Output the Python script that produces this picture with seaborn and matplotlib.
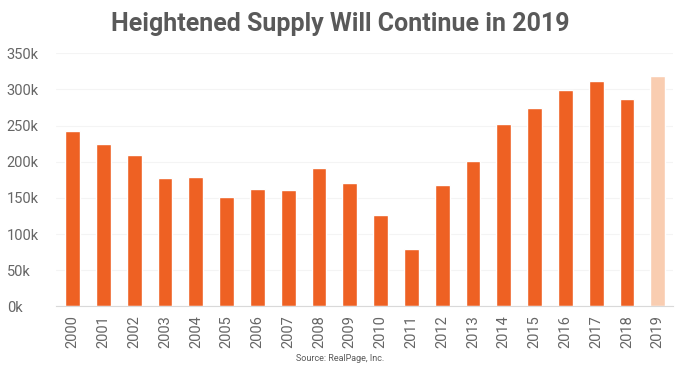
import matplotlib
matplotlib.use('Agg')
import matplotlib.pyplot as plt
import seaborn as sns
import pandas as pd

years = [str(y) for y in range(2000, 2020)]
supply = [242, 225, 209, 177, 179, 151, 162, 161, 192, 171,
          127, 79, 168, 201, 252, 274, 299, 311, 287, 319]
forecast = [False] * 19 + [True]
yticks = [0, 50, 100, 150, 200, 250, 300, 350]

df = pd.DataFrame({'year': years, 'supply': supply, 'forecast': forecast})

sns.set_style('white')
plt.rcParams['font.family'] = ['Roboto', 'DejaVu Sans']

fig, ax = plt.subplots(figsize=(6.8, 3.67), dpi=100)
fig.subplots_adjust(left=0.082, right=0.99, top=0.855, bottom=0.165)

palette = {False: '#EE6123', True: '#F9CDB1'}
sns.barplot(data=df, x='year', y='supply', hue='forecast', palette=palette,
            dodge=False, width=0.48, legend=False, ax=ax, saturation=1)

ax.set_ylim(0, 350)
ax.set_yticks(yticks)
ax.set_yticklabels([f'{v}k' for v in yticks])
ax.set_xlim(-0.55, 19.5)
ax.set_xlabel('')
ax.set_ylabel('')
ax.yaxis.grid(True, color='#f4f4f4', linewidth=0.8)
ax.set_axisbelow(True)
for s in ['top', 'right', 'left']:
    ax.spines[s].set_visible(False)
ax.spines['bottom'].set_color('#d9d9d9')
ax.tick_params(axis='x', rotation=90, labelsize=10.5, colors='#666666', length=0, pad=6)
ax.tick_params(axis='y', labelsize=10.5, colors='#666666', length=0, pad=2)
for lab in ax.get_yticklabels():
    lab.set_horizontalalignment('left')
    lab.set_x(-0.075)

fig.text(0.5, 0.935, 'Heightened Supply Will Continue in 2019', ha='center', va='center',
         fontsize=18, fontweight='bold', color='#595959')
fig.text(0.5, 0.022, 'Source: RealPage, Inc.', ha='center', va='center',
         fontsize=6.5, color='#595959')

fig.savefig('out.png', dpi=100)
